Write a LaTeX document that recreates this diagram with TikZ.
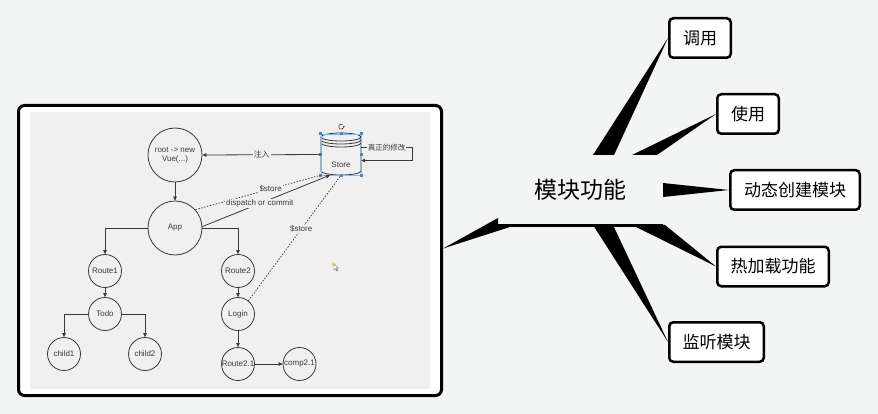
\documentclass[tikz,border=0pt]{standalone}
\usepackage{fontspec}
\setmainfont{Liberation Sans}
\newfontfamily\cjk{Noto Sans CJK SC}
\usetikzlibrary{arrows.meta,calc}
\definecolor{pagebg}{HTML}{F3F4F4}
\definecolor{shotbg}{HTML}{EFF0EF}
\definecolor{ink}{HTML}{3A3A3A}
\definecolor{handle}{HTML}{2F8CF0}
\pgfdeclarelayer{backmost}
\pgfdeclarelayer{wedges}
\pgfsetlayers{backmost,wedges,main}
\begin{document}
\begin{tikzpicture}[x=1pt,y=-1pt,
  circ/.style={circle,draw=ink,line width=0.8pt,inner sep=0pt,font=\fontsize{8}{9}\selectfont,text=ink,align=center},
  arr/.style={draw=ink,line width=0.8pt,-{Triangle[length=4pt,width=3.6pt]}},
  dotline/.style={draw=ink,line width=0.7pt,dash pattern=on 1.5pt off 1.5pt},
  lbl/.style={fill=shotbg,inner sep=1pt,font=\fontsize{8}{9}\selectfont,text=ink},
  mbox/.style={draw=black,line width=2.5pt,rounded corners=4pt,fill=white,minimum height=39.5pt,inner sep=0pt,font=\cjk\fontsize{17}{17}\selectfont},
  hdl/.style={fill=handle,minimum size=3pt,inner sep=0pt}]
\useasboundingbox (0,0) rectangle (878,414);
\begin{pgfonlayer}{backmost}
\fill[pagebg] (0,0) rectangle (878,414);
\end{pgfonlayer}

% ---------- screenshot frame ----------
\node[draw=black,line width=3pt,rounded corners=6pt,fill=white,minimum width=423pt,minimum height=290pt,inner sep=0pt] (frame) at (230,250.5) {};
\fill[shotbg] (30,112) rectangle (430,389);

% ---------- inner diagram ----------
\node[circ,minimum size=54pt] (root) at (175,155) {root -> new\\Vue(...)};
\node[circ,minimum size=54pt] (app) at (175,228) {App};
\node[circ,minimum size=33pt] (route1) at (105,271) {Route1};
\node[circ,minimum size=33pt] (todo) at (105,314) {Todo};
\node[circ,minimum size=33pt] (child1) at (64,354) {child1};
\node[circ,minimum size=33pt] (child2) at (145,354) {child2};
\node[circ,minimum size=33pt] (route2) at (238,271) {Route2};
\node[circ,minimum size=33pt] (login) at (238,314) {Login};
\node[circ,minimum size=33pt] (route21) at (238,364) {Route2.1};
\node[circ,minimum size=33pt] (comp21) at (299.5,364) {comp2.1};

% store cylinder
\node[minimum width=40pt,minimum height=41pt,inner sep=0pt] (store) at (341,154.5) {};
\begin{scope}[line width=0.8pt]
  \draw[ink] (321,137) -- (321,171) arc[start angle=180,end angle=360,x radius=20pt,y radius=4pt] -- (361,137);
  \draw[ink] (341,137) ellipse [x radius=20pt,y radius=4pt];
  \draw[ink] (321,140) arc[start angle=180,end angle=360,x radius=20pt,y radius=4pt];
  \draw[ink] (321,143) arc[start angle=180,end angle=360,x radius=20pt,y radius=4pt];
\end{scope}
\node[font=\fontsize{8}{9}\selectfont,text=ink] (storetxt) at (341,165) {Store};
\draw[handle!60,line width=0.4pt] (store.north west) rectangle (store.south east);
\foreach \a in {north west,north,north east,west,east,south west,south,south east}
  \node[hdl] at (store.\a) {};
\draw[ink,line width=0.6pt,-{Stealth[length=1.6pt,width=1.8pt]}] (342.5,124.5) arc[start angle=60,end angle=380,radius=2.5pt];

% edges
\draw[arr] (store.west) -- node[lbl,font=\cjk\fontsize{8}{9}\selectfont]{注入} (root.east);
\draw[arr] ($(store.east)+(0,-7)$) -- node[lbl,font=\cjk\fontsize{7.5}{9}\selectfont]{真正的修改} ++(51,0) -- ++(0,13) -- ($(store.east)+(0,6)$);
\draw[arr] (root) -- (app);
\draw[dotline] (app.42) -- node[lbl,pos=0.6]{\$store} (store.south west);
\draw[arr] (app.3) -- node[lbl,pos=0.45]{dispatch or commit} ($(store.south)+(-11,0)$);
\draw[dotline] (login.52) -- node[lbl,pos=0.57]{\$store} (store.south);
\draw[arr] (app.west) -| (route1.north);
\draw[arr] (app.east) -| (route2.north);
\draw[arr] (route1) -- (todo);
\draw[arr] (todo.west) -| (child1.north);
\draw[arr] (todo.east) -| (child2.north);
\draw[arr] (route2) -- (login);
\draw[arr] (login) -- (route21);
\draw[arr] (route21) -- (comp21);
% cursor
\fill[yellow!70!orange,opacity=0.6] (333.5,264.5) circle (2pt);
\draw[ink!70,line width=0.4pt,fill=white] (334,264) -- (334,270) -- (335.5,268.6) -- (336.8,271) -- (337.6,270.6) -- (336.4,268.2) -- (338.3,268.1) -- cycle;

% ---------- mind map ----------
\node[minimum width=165pt,minimum height=70pt,inner sep=0pt,font=\cjk\fontsize{23}{23}\selectfont] (center) at (580.5,190) {模块功能};
\draw[line width=3pt] (center.south west) -- (center.south east);

\node[mbox,minimum width=61.5pt] (b1) at (700,38) {调用};
\node[mbox,minimum width=61.5pt] (b2) at (748,114) {使用};
\node[mbox,minimum width=129.5pt] (b3) at (795,190) {动态创建模块};
\node[mbox,minimum width=111.5pt] (b4) at (773,266.5) {热加载功能};
\node[mbox,minimum width=94.5pt] (b5) at (716.5,342) {监听模块};

\coordinate (c1a) at (593,155); \coordinate (c1b) at (614,155);
\coordinate (c2a) at (632,155); \coordinate (c2b) at (657,155);
\coordinate (c3a) at (663,183); \coordinate (c3b) at (663,197);
\coordinate (c4a) at (632,225); \coordinate (c4b) at (665,225);
\coordinate (c5a) at (593,225); \coordinate (c5b) at (613,225);
\coordinate (c6a) at (498,218); \coordinate (c6b) at (498,226); \coordinate (c6c) at (513,226);

\begin{pgfonlayer}{wedges}
\fill[black] (c1a) -- (c1b) -- (b1.west) -- cycle;
\fill[black] (c2a) -- (c2b) -- (b2.west) -- cycle;
\fill[black] (c3a) -- (c3b) -- (b3.west) -- cycle;
\fill[black] (c4a) -- (c4b) -- (b4.west) -- cycle;
\fill[black] (c5a) -- (c5b) -- (b5.west) -- cycle;
\fill[black] (c6a) -- (c6b) -- (c6c) -- ($(frame.east)+(0,-2)$) -- cycle;
\end{pgfonlayer}
\end{tikzpicture}
\end{document}
